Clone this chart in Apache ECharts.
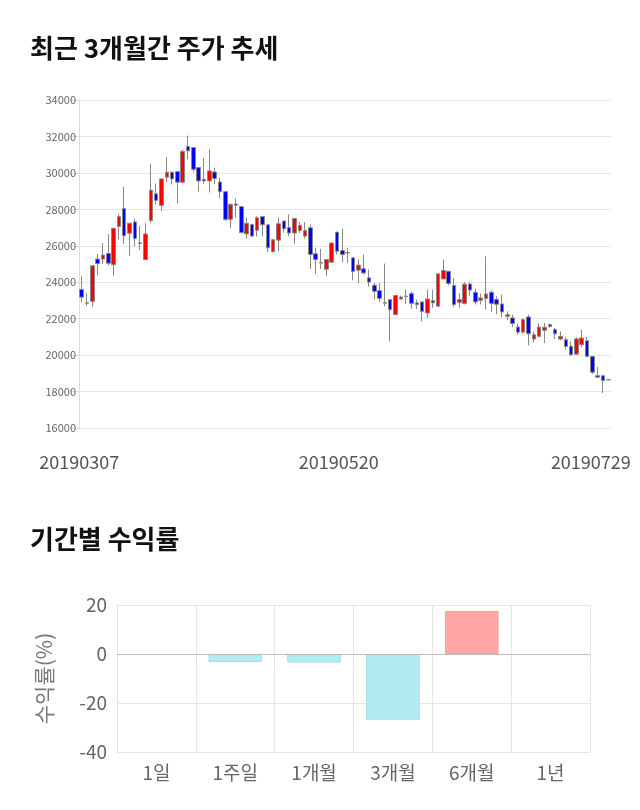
<!DOCTYPE html>
<html>
<head>
<meta charset="utf-8">
<script src="https://cdn.jsdelivr.net/npm/echarts@6/dist/echarts.min.js"></script>
<style>
html,body{margin:0;padding:0;background:#fff;}
#main{width:640px;height:810px;}
</style>
</head>
<body>
<div id="main"></div>
<script>
var dates = [
'20190307','20190308','20190311','20190312','20190313','20190314','20190315','20190318','20190319','20190320',
'20190321','20190322','20190325','20190326','20190327','20190328','20190329',
'20190401','20190402','20190403','20190404','20190405','20190408','20190409','20190410','20190411','20190412',
'20190415','20190416','20190417','20190418','20190419','20190422','20190423','20190424','20190425','20190426',
'20190429','20190430',
'20190502','20190503','20190507','20190508','20190509','20190510','20190513','20190514','20190515','20190516',
'20190517','20190520','20190521','20190522','20190523','20190524','20190527','20190528','20190529','20190530','20190531',
'20190603','20190604','20190605','20190607','20190610','20190611','20190612','20190613','20190614',
'20190617','20190618','20190619','20190620','20190621','20190624','20190625','20190626','20190627','20190628',
'20190701','20190702','20190703','20190704','20190705','20190708','20190709','20190710','20190711','20190712',
'20190715','20190716','20190717','20190718','20190719','20190722','20190723','20190724','20190725','20190726','20190729'
];
// open, close, low, high
var openP  = [23600,22870,22950,25270,25270,25580,24960,27060,28050,26690,27310,26160,25240,27380,28850,28220,29760,30040,30070,29490,
31450,31390,30290,29650,29560,30050,29500,28970,27450,28290,28150,26650,27170,26850,27600,27150,25670,26310,27360,27000,
26700,26840,26530,26990,25560,25080,24710,25100,26750,25740,25630,25340,24660,24740,24240,23840,23540,22850,23050,22220,
23080,23240,23380,22860,22920,22310,22990,22680,24180,24600,23820,22900,22830,23900,23450,23010,23100,23450,23050,22810,
22130,22040,21540,21260,22090,20880,21030,21360,21670,21400,20880,20840,20480,20050,20570,20790,19930,18870,18870,18650];
var closeP = [23180,22850,24900,25020,25490,25040,26960,27600,26550,27240,26400,26130,26650,29050,28490,29670,30040,29670,29490,31180,
31210,30200,29560,29560,30110,29690,28970,27450,28280,28220,26720,27230,26530,27540,27150,25890,26330,27210,26940,26700,
27500,27120,26840,25520,25250,25050,25250,26150,25700,25520,25600,24590,24940,24510,24010,23500,23100,22880,22500,23270,
23190,23220,22840,22770,22400,23080,22870,24460,24640,23930,22770,23050,23890,23570,22920,23140,23360,22830,22790,22370,
22220,21730,21260,21950,21170,21120,21540,21530,21570,21170,21030,20470,20020,20890,20940,19930,19060,18790,18610,18640];
var lowP   = [22900,22700,22650,24370,25000,24910,24360,26360,26090,25450,25960,25780,25230,27270,28270,27910,29490,29360,28330,29480,
30750,30070,28970,29410,28920,29380,28600,27360,26950,27540,26700,26390,26500,26500,26530,25650,25650,25710,26720,26530,
26110,26700,26390,24730,24450,24730,24330,25070,25520,25100,25060,24110,23960,24420,23740,23050,22920,22680,20750,22200,
23050,22800,22540,22540,21850,22040,22590,22670,24170,23820,22640,22590,22780,23250,22780,22780,22500,22370,22250,22080,
21920,21540,21120,21200,20530,20680,20990,20660,21500,20880,20810,20300,19960,20020,20440,19890,18970,18780,17920,18630];
var highP  = [24350,23400,24950,25550,26150,26640,26970,27730,29240,27250,27490,27090,27240,30510,29420,29680,30870,30050,30090,31270,
32040,31400,30300,30810,31300,30290,29740,28980,28290,28600,28150,27540,27180,27620,27600,27160,26340,27540,27360,27720,
27500,27300,27300,27170,25890,25830,25260,26170,26760,26940,25890,25350,25250,25520,24700,23960,23950,25030,23080,23290,
23270,23610,23500,23040,22930,23600,23590,24470,25250,24610,24230,23400,24000,24000,23640,23380,25430,23560,23220,23320,
22400,22220,21730,21990,22220,21300,21760,21760,21730,21500,21300,20990,20750,20980,21390,20990,19940,19340,18880,18660];

var periods = ['1일','1주일','1개월','3개월','6개월','1년'];
var returns = [0, -3.3, -3.5, -26.8, 17.6, 0];

var candleData = [];
for (var i = 0; i < dates.length; i++) {
  candleData.push([openP[i], closeP[i], lowP[i], highP[i]]);
}
var barData = returns.map(function (v) {
  return {
    value: v,
    itemStyle: {
      color: v >= 0 ? '#ffa6a6' : '#b2ebf2',
      borderColor: v === 0 ? 'rgba(0,0,0,0)' : (v > 0 ? '#f2a0a0' : '#a8dde6'),
      borderWidth: v === 0 ? 0 : 1
    }
  };
});

var FONT = '"Noto Sans CJK KR", "Noto Sans", sans-serif';
var chart = echarts.init(document.getElementById('main'), null, {renderer: 'canvas'});
var lastIdx = dates.length - 1;
var option = {
  animation: false,
  backgroundColor: '#ffffff',
  textStyle: {fontFamily: FONT},
  graphic: [
    {type: 'text', left: 30, top: 35, style: {text: '최근 3개월간 주가 추세', font: 'bold 26px ' + FONT, fill: '#111'}},
    {type: 'text', left: 30, top: 526, style: {text: '기간별 수익률', font: 'bold 26px ' + FONT, fill: '#111'}}
  ],
  grid: [
    {left: 79, right: 29, top: 100, height: 328, containLabel: false},
    {left: 117, right: 50, top: 605, height: 147, containLabel: false}
  ],
  xAxis: [
    {
      type: 'category', gridIndex: 0, data: dates, boundaryGap: true,
      axisLine: {show: false}, axisTick: {show: false}, splitLine: {show: false},
      axisLabel: {
        fontSize: 18, color: '#555', margin: 25, fontFamily: FONT,
        interval: function (idx) { return idx === 0 || idx === 50 || idx === lastIdx; },
        formatter: function (v, idx) {
          if (idx === lastIdx) return '{r|' + v + '}';
          if (idx === 50) return '{m|' + v + '}';
          return '{f|' + v + '}';
        },
        rich: {
          r: {fontSize: 18, color: '#555', fontFamily: FONT, padding: [0, 35, 0, 0]},
          m: {fontSize: 18, color: '#555', fontFamily: FONT, padding: [0, 18, 0, 0]},
          f: {fontSize: 18, color: '#555', fontFamily: FONT, padding: [0, 5, 0, 0]}
        }
      }
    },
    {
      type: 'category', gridIndex: 1, data: periods,
      axisLine: {show: true, lineStyle: {color: '#ccc'}},
      axisTick: {show: true, length: 12, lineStyle: {color: '#e3e3e3'}},
      splitLine: {show: true, lineStyle: {color: '#e6e6e6'}},
      axisLabel: {fontSize: 19, color: '#666', margin: 11, fontFamily: FONT}
    }
  ],
  yAxis: [
    {
      type: 'value', gridIndex: 0, min: 16000, max: 34000, interval: 2000,
      axisLine: {show: true, lineStyle: {color: '#ddd'}},
      axisTick: {show: true, length: 9, lineStyle: {color: '#ddd'}},
      splitLine: {show: true, lineStyle: {color: '#e6e6e6'}},
      axisLabel: {fontSize: 11, color: '#666', margin: 3, fontFamily: FONT,
        formatter: function (v) { return String(v); }}
    },
    {
      type: 'value', gridIndex: 1, min: -40, max: 20, interval: 20,
      axisLine: {show: true, lineStyle: {color: '#e3e3e3'}},
      axisTick: {show: false},
      splitLine: {show: true, lineStyle: {color: '#e6e6e6'}},
      axisLabel: {fontSize: 19, color: '#666', margin: 10, fontFamily: FONT},
      name: '수익률(%)', nameLocation: 'middle', nameRotate: 90, nameGap: 62,
      nameTextStyle: {fontSize: 21, color: '#777', fontFamily: FONT}
    }
  ],
  series: [
    {
      type: 'candlestick', xAxisIndex: 0, yAxisIndex: 0, data: candleData,
      barWidth: 4,
      itemStyle: {color: '#ff0000', color0: '#0000ff', borderColor: '#888', borderColor0: '#888', borderWidth: 1}
    },
    {
      type: 'bar', xAxisIndex: 1, yAxisIndex: 1, data: barData, barWidth: '68%',
      markLine: {
        silent: true, symbol: 'none', label: {show: false},
        lineStyle: {color: '#bbb', type: 'solid', width: 1},
        data: [{yAxis: 0}]
      }
    }
  ]
};
chart.setOption(option);
</script>
</body>
</html>
